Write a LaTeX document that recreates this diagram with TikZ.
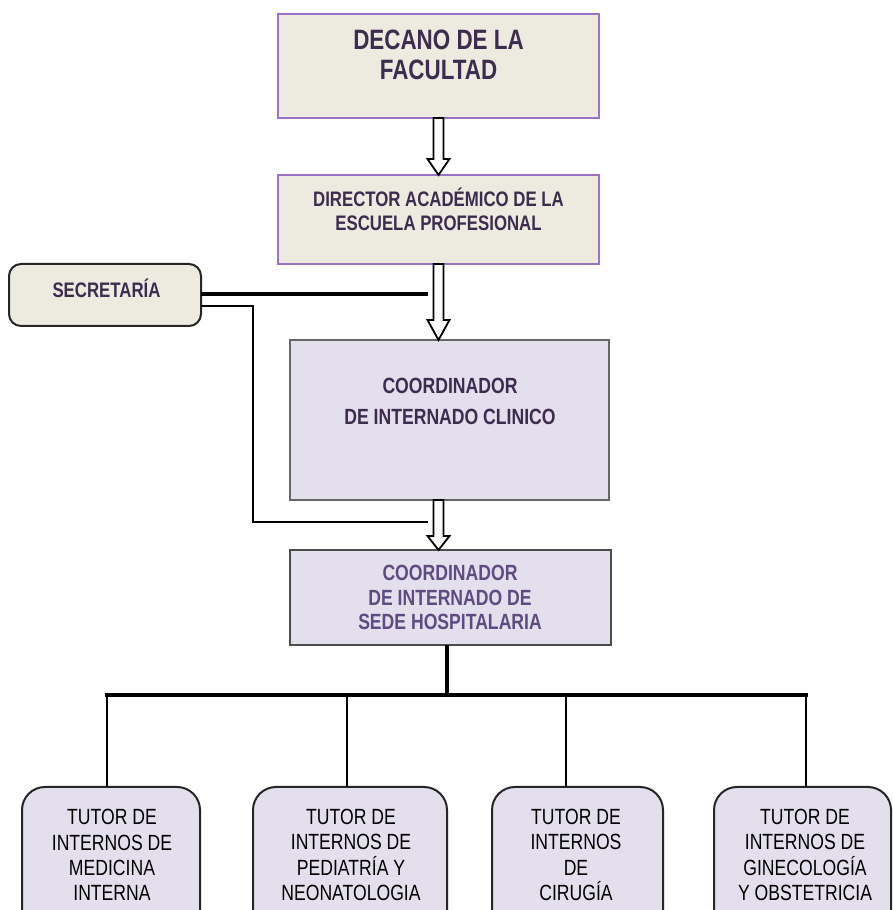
\documentclass[tikz,border=0pt]{standalone}
\usepackage{fontspec}
\newfontfamily\nar[FakeStretch=0.8]{Liberation Sans}
\usetikzlibrary{calc}
\definecolor{beige}{HTML}{EDEAE0}
\definecolor{lav}{HTML}{E4DFEC}
\definecolor{purb}{HTML}{9B72C6}
\definecolor{dtxt}{HTML}{3D2C4E}
\definecolor{stxt}{HTML}{5D4B82}
\newcommand\hollowarrow[3]{\draw[hollow] ($(#1)+(-5,0)$) -- ($(#2)+(-5,#3)$) -- ($(#2)+(-11,#3)$) -- (#2) -- ($(#2)+(11,#3)$) -- ($(#2)+(5,#3)$) -- ($(#1)+(5,0)$) -- cycle;}
\begin{document}
\begin{tikzpicture}[x=1pt,y=1pt,
  topbox/.style={draw=purb, fill=beige, line width=1.5, inner sep=0, outer sep=0},
  midbox/.style={draw=black!60, fill=lav, line width=1.5, inner sep=0, outer sep=0},
  secbox/.style={draw=black!85, fill=beige, line width=2, rounded corners=12, inner sep=0, outer sep=0},
  tutorbox/.style={draw=black!85, fill=lav, line width=2, rounded corners=23, inner sep=0, outer sep=0},
  hollow/.style={draw=black, fill=white, line width=1.8, line join=miter},
  thickline/.style={draw=black, line width=3.5},
  thinline/.style={draw=black, line width=2.2},
  dropline/.style={draw=black, line width=1.8},
  ttext/.style={align=center, inner sep=0, text=dtxt},
  btext/.style={align=center, inner sep=0, text=black, font=\nar\fontsize{22}{25.3}\selectfont}
]
\useasboundingbox (0,0) rectangle (893,910);
\clip (0,0) rectangle (893,910);
\fill[white] (0,0) rectangle (893,910);

% boxes
\node[topbox, minimum width=321, minimum height=104] (decano) at (438.5,844) {};
\node[topbox, minimum width=321, minimum height=89] (director) at (438.5,690.5) {};
\node[secbox, minimum width=192, minimum height=62] (sec) at (105,615) {};
\node[midbox, minimum width=319, minimum height=160] (clin) at (449.5,490) {};
\node[midbox, draw=black!70, minimum width=321, minimum height=95] (sede) at (450.5,312.5) {};
\node[tutorbox, minimum width=178, minimum height=148] (t1) at (111,49) {};
\node[tutorbox, minimum width=194, minimum height=148] (t2) at (350,49) {};
\node[tutorbox, minimum width=171, minimum height=148] (t3) at (577.5,49) {};
\node[tutorbox, minimum width=177, minimum height=148] (t4) at (802.5,49) {};

% texts
\node[ttext, font=\nar\bfseries\fontsize{28}{30}\selectfont] (decanoT) at (438.5,855) {DECANO DE LA\\FACULTAD};
\node[ttext, font=\nar\bfseries\fontsize{21}{24}\selectfont] (directorT) at (438.5,701) {DIRECTOR ACADÉMICO DE LA\\ESCUELA PROFESIONAL};
\node[ttext, font=\nar\bfseries\fontsize{21}{24}\selectfont] (secT) at (106.5,622) {SECRETARÍA};
\node[ttext, font=\nar\bfseries\fontsize{22}{31}\selectfont] (clinT) at (450,508.5) {COORDINADOR\\DE INTERNADO CLINICO};
\node[ttext, text=stxt, font=\nar\bfseries\fontsize{22}{24.5}\selectfont] (sedeT) at (450,312.5) {COORDINADOR\\DE INTERNADO DE\\SEDE HOSPITALARIA};
\node[btext] (t1T) at (112,55) {TUTOR DE\\INTERNOS DE\\MEDICINA\\INTERNA};
\node[btext] (t2T) at (351,55) {TUTOR DE\\INTERNOS DE\\PEDIATRÍA Y\\NEONATOLOGIA};
\node[btext] (t3T) at (576,55) {TUTOR DE\\INTERNOS\\DE\\CIRUGÍA};
\node[btext] (t4T) at (805,55) {TUTOR DE\\INTERNOS DE\\GINECOLOGÍA\\Y OBSTETRICIA};

% secretaria connectors
\coordinate (s1e) at (428,616);
\draw[thickline] (sec.east |- s1e) -- (s1e);
\coordinate (s2a) at ($(sec.east)+(0,-11)$);
\coordinate (s2c) at (253,388);
\coordinate (s2e) at (428,388);
\draw[thinline] (s2a) -| (s2c) -- (s2e);

% hollow arrows
\coordinate (a1s) at (decano.south);
\coordinate (a1e) at (director.north);
\coordinate (a2s) at (director.south);
\coordinate (a2e) at (director.south |- clin.north);
\coordinate (a3s) at (director.south |- clin.south);
\coordinate (a3e) at (director.south |- sede.north);
\hollowarrow{a1s}{a1e}{16}
\hollowarrow{a2s}{a2e}{20}
\hollowarrow{a3s}{a3e}{14}

% tree
\coordinate (bus) at (447,215);
\coordinate (d1) at (107,215);
\coordinate (d2) at (347,215);
\coordinate (d3) at (566,215);
\coordinate (d4) at (806,215);
\draw[thickline] (sede.south -| bus) -- (bus);
\draw[thickline, line cap=rect] (d1) -- (d4);
\draw[dropline] (d1) -- (d1 |- t1.north);
\draw[dropline] (d2) -- (d2 |- t2.north);
\draw[dropline] (d3) -- (d3 |- t3.north);
\draw[dropline] (d4) -- (d4 |- t4.north);
\end{tikzpicture}
\end{document}
